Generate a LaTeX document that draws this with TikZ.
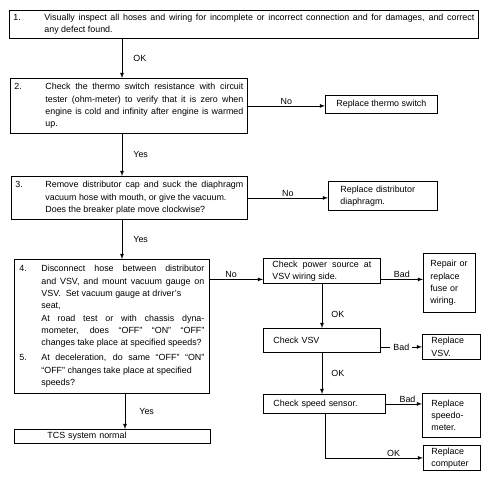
\documentclass[tikz,border=0pt]{standalone}
\usepackage{fontspec}
\setmainfont{Liberation Sans}
\usepackage{tikz}
\usetikzlibrary{positioning,shapes,arrows,calc}

\newcommand{\numpar}[4]{\makebox[#2][l]{#1}\parbox[t]{#3}{#4}}

\begin{document}
\begin{tikzpicture}[x=1pt, y=-1pt, line width=0.8pt, >=latex,
    box/.style={draw, rectangle, inner sep=0pt, anchor=north west, font=\fontsize{8.9}{12.3}\selectfont},
    sbox/.style={box, align=left, inner xsep=#1},
    lbl/.style={font=\fontsize{8.9}{10}\selectfont, inner sep=1pt}]
    \useasboundingbox (0,0) rectangle (491,480);

    \node[box, minimum width=469, minimum height=28] (s1) at (9,10)
        {\numpar{1.}{31pt}{430pt}{Visually inspect all hoses and wiring for incomplete or incorrect connection and for damages, and correct\linebreak any defect found.}};
    \node[box, minimum width=237, minimum height=55] (s2) at (10,78)
        {\numpar{2.}{31pt}{198pt}{Check the thermo switch resistance with circuit\linebreak tester (ohm-meter) to verify that it is zero when\linebreak engine is cold and infinity after engine is warmed\linebreak up.}};
    \node[box, minimum width=236, minimum height=43] (s3) at (11,176)
        {\numpar{3.}{30pt}{198pt}{Remove distributor cap and suck the diaphragm\linebreak vacuum hose with mouth, or give the vacuum.\newline Does the breaker plate move clockwise?}};
    \node[box, minimum width=195, minimum height=134] (s4) at (14,259)
        {\parbox{185pt}{\noindent\numpar{4.}{22pt}{163pt}{Disconnect hose between distributor\linebreak and VSV, and mount vacuum gauge on\linebreak VSV.\ \ Set vacuum gauge at driver’s\newline seat,\newline At road test or with chassis dyna-\linebreak mometer, does “OFF” “ON” “OFF”\linebreak changes take place at specified speeds?}\par\vspace{6pt}
        \noindent\numpar{5.}{22pt}{163pt}{At deceleration, do same “OFF” “ON”\linebreak “OFF” changes take place at specified\newline speeds?}}};
    \node[sbox=33pt, text width=130pt, minimum height=14] (s5) at (14,429) {TCS system normal};

    \node[box, minimum width=112, minimum height=18] (r1) at (325,95) {Replace thermo switch};
    \node[sbox=12pt, text width=85pt, minimum height=29] (r2) at (328,181) {Replace distributor\\diaphragm.};
    \node[box, minimum width=117, minimum height=25] (p1) at (263,258)
        {\parbox{99pt}{Check power source at\linebreak VSV wiring side.}};
    \node[sbox=7pt, text width=38pt, minimum height=59] (p2) at (423,253) {Repair or\\replace\\fuse or\\wiring.};
    \node[sbox=10pt, text width=97pt, minimum height=24] (v1) at (263,328) {Check VSV};
    \node[sbox=9pt, text width=40pt, minimum height=25] (v2) at (422,334) {Replace\\VSV.};
    \node[sbox=10pt, text width=102pt, minimum height=19] (sp1) at (263,394) {Check speed sensor.};
    \node[sbox=9pt, text width=40pt, minimum height=44] (sp2) at (422,393) {Replace\\speedo-\\meter.};
    \node[sbox=8pt, text width=41pt, minimum height=25] (c2) at (423,445) {Replace\\computer};

    \coordinate (cl) at (122,0);
    \coordinate (cm) at (125,0);
    \coordinate (cr) at (322,0);
    \coordinate (cs) at (325,0);
    \coordinate (q4) at ([yshift=-8.5pt]p1.west);

    \draw[->] (s1.south -| cl) -- node[lbl, right=10pt] {OK} (s2.north -| cl);
    \draw[->] (s2.south -| cl) -- node[lbl, right=10pt] {Yes} (s3.north -| cl);
    \draw[->] (s3.south -| cl) -- node[lbl, right=10pt] {Yes} (s4.north -| cl);
    \draw[->] (s4.south -| cm) -- node[lbl, right=13pt] {Yes} (s5.north -| cm);

    \draw[->] (s2.east) -- node[lbl, above] {No} (s2.east -| r1.west);
    \draw[->] (s3.east) -- node[lbl, above] {No} (s3.east -| r2.west);
    \draw[->] (s4.east |- q4) -- node[lbl, above, pos=0.4] {No} (q4);

    \draw[->] (p1.east |- q4) -- node[lbl, above] {Bad} (p2.west |- q4);
    \draw[->] (p1.south -| cr) -- node[lbl, right=8pt, pos=0.7] {OK} (v1.north -| cr);
    \draw[->] (v1.east |- v2.west) -- node[lbl, fill=white, inner xsep=3pt] {Bad} (v2.west);
    \draw[->] (v1.south -| cr) -- node[lbl, right=8pt] {OK} (sp1.north -| cr);
    \draw[->] (sp1.east) -- node[lbl, above, pos=0.6] {Bad} (sp1.east -| sp2.west);
    \draw[->] (sp1.south -| cs) |- node[lbl, above, pos=0.85] {OK} (c2.west);
\end{tikzpicture}
\end{document}
